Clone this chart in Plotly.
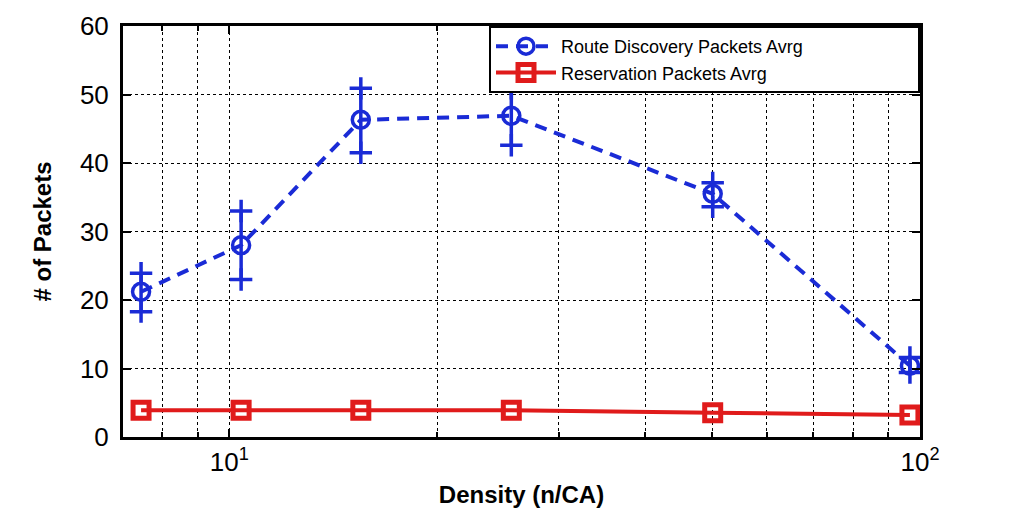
import plotly.graph_objects as go

density = [7.45, 10.4, 15.5, 25.6, 50.1, 96.7]
route_avg = [21.2, 28.0, 46.3, 46.9, 35.5, 10.4]
route_hi = [23.9, 33.0, 50.9, 50.9, 37.1, 11.6]
route_lo = [18.3, 23.0, 41.5, 42.6, 33.6, 9.4]
resv_avg = [3.9, 3.9, 3.9, 3.9, 3.55, 3.2]

blue = "#1a2bd6"
red = "#e01b1b"
font_fam = "Liberation Sans Narrow, Liberation Sans, Arial, sans-serif"

fig = go.Figure()

# error bars (vertical segments)
fig.add_trace(go.Scatter(
    x=density, y=route_avg, mode="none", showlegend=False, hoverinfo="skip",
    error_y=dict(type="data", symmetric=False,
                 array=[h - a for h, a in zip(route_hi, route_avg)],
                 arrayminus=[a - l for a, l in zip(route_avg, route_lo)],
                 color=blue, thickness=3.5, width=0),
))
# '+' ends of the error bars
fig.add_trace(go.Scatter(
    x=density + density, y=route_hi + route_lo, mode="markers",
    showlegend=False, hoverinfo="skip",
    marker=dict(symbol="cross-thin-open", size=16, color=blue,
                line=dict(color=blue, width=3.5)),
))
fig.add_trace(go.Scatter(
    x=density, y=route_avg, mode="lines+markers",
    name="Route Discovery Packets Avrg",
    line=dict(color=blue, width=4, dash="12px,8px"),
    marker=dict(symbol="circle-open", size=17, color=blue,
                line=dict(color=blue, width=3.5)),
))
fig.add_trace(go.Scatter(
    x=density, y=resv_avg, mode="lines+markers",
    name="Reservation Packets Avrg",
    line=dict(color=red, width=4),
    marker=dict(symbol="square-open", size=16, color=red,
                line=dict(color=red, width=5)),
))

grid_style = dict(showgrid=True, gridcolor="black", griddash="dot", gridwidth=1)

# page body has an 8px margin, so the figure is sized to fit the window
fig.update_layout(
    width=1006, height=522,
    margin=dict(l=115, r=94, t=18, b=93, autoexpand=False),
    paper_bgcolor="white", plot_bgcolor="white",
    font=dict(family=font_fam, color="black"),
    legend=dict(x=1, y=1, xanchor="right", yanchor="top",
                orientation="h", entrywidth=352, entrywidthmode="pixels",
                bgcolor="white", bordercolor="black", borderwidth=2,
                font=dict(size=18, family=font_fam),
                tracegroupgap=0, itemwidth=60),
    xaxis=dict(
        type="log", range=[0.846, 2.0], automargin=False,
        tickvals=[10, 100], ticktext=["10<sup>1</sup>", "10<sup>2</sup>"],
        ticks="inside", ticklen=8, tickwidth=2, tickcolor="black",
        tickfont=dict(size=26), showline=True, linecolor="black", linewidth=3,
        mirror="allticks", zeroline=False,
        minor=dict(tickvals=[8, 9, 20, 30, 40, 50, 60, 70, 80, 90],
                   ticks="inside", ticklen=5, tickcolor="black",
                   showgrid=True, gridcolor="black", griddash="dot", gridwidth=1),
        title=dict(text="<b>Density (n/CA)</b>", font=dict(size=24), standoff=10),
        **grid_style,
    ),
    yaxis=dict(
        range=[0, 60], tickvals=[0, 10, 20, 30, 40, 50, 60], automargin=False,
        ticks="inside", ticklen=8, tickwidth=2, tickcolor="black",
        tickfont=dict(size=26), showline=True, linecolor="black", linewidth=3,
        mirror="allticks", zeroline=False, ticklabelstandoff=6,
        title=dict(text="<b># of Packets</b>", font=dict(size=24), standoff=22),
        **grid_style,
    ),
)

fig.write_html("out.html")
